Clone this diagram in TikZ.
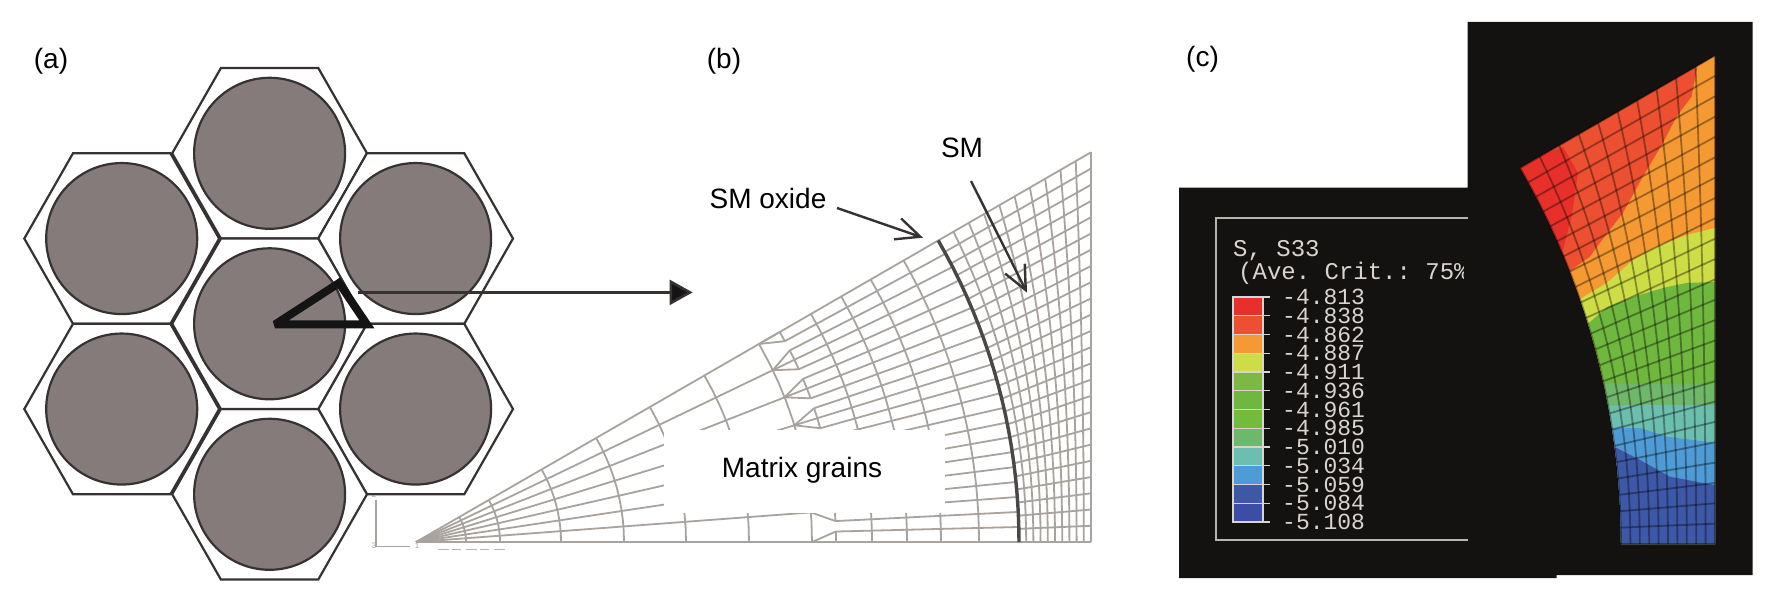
\documentclass[tikz,border=0pt]{standalone}
\usepackage{fontspec}
\usetikzlibrary{arrows.meta}
\frenchspacing
\newfontfamily\lab{Liberation Sans}
\newfontfamily\leg{Liberation Mono}
\definecolor{cellfill}{HTML}{857B7A}
\definecolor{cellline}{HTML}{363232}
\definecolor{meshgrey}{HTML}{A8A39E}
\definecolor{panel}{HTML}{141211}
\definecolor{legtext}{HTML}{D8D4D0}
\definecolor{bandA}{HTML}{E8302A}
\definecolor{bandB}{HTML}{EC5030}
\definecolor{bandC}{HTML}{F59A33}
\definecolor{bandD}{HTML}{CEDC45}
\definecolor{bandE}{HTML}{7EB843}
\definecolor{bandF}{HTML}{6FB73E}
\definecolor{bandG}{HTML}{72BC3B}
\definecolor{bandH}{HTML}{6FB76A}
\definecolor{bandI}{HTML}{6CBFAE}
\definecolor{bandJ}{HTML}{4F9BD5}
\definecolor{bandK}{HTML}{3E58A8}
\definecolor{bandL}{HTML}{3B4DA4}
\tikzset{
  x=1pt,y=-1pt,
  hexcell/.style={draw=cellline,line width=2.2pt,line join=miter},
  fibre/.style={draw=cellline,fill=cellfill,line width=2.2pt},
  meshline/.style={draw=meshgrey,line width=1.8pt},
  callout/.style={draw=cellline,line width=2.4pt,-{Straight Barb[length=24pt,width=22pt]}},
  labeltext/.style={font=\lab\fontsize{28}{30}\selectfont,text=black,inner sep=0pt},
  legendtext/.style={font=\leg\fontsize{23}{25}\selectfont,text=legtext,inner sep=0pt,anchor=west},
  tinydigit/.style={font=\lab\fontsize{8}{9}\selectfont,text=meshgrey,inner sep=0pt},
  contourmesh/.style={draw=black,draw opacity=.36,line width=1.8pt},
}
% one hexagonal cell with its circle
\newcommand{\hexcellat}[2]{%
  \draw[hexcell,fill=white] (#1+97.4,#2) -- (#1+48.7,#2+85.25) -- (#1-48.7,#2+85.25)
     -- (#1-97.4,#2) -- (#1-48.7,#2-85.25) -- (#1+48.7,#2-85.25) -- cycle;
  \draw[fibre] (#1,#2) circle[radius=75.5];
}
% SM mesh: apex (ax,ay), inner radius R, outer straight edge distance E
\newcommand{\smmesh}[5]{%
  \foreach \i in {0,...,10}{
    \draw[#5] plot[samples at={0,1,...,24},variable=\j]
      ({#1+(1-\i/10)*#3*cos(30*\j/24)+(\i/10)*#4},{#2-(1-\i/10)*#3*sin(30*\j/24)-(\i/10)*#4*0.57735*\j/24});
  }
  \foreach \j in {0,...,24}{
    \draw[#5] ({#1+#3*cos(30*\j/24)},{#2-#3*sin(30*\j/24)}) -- ({#1+#4},{#2-#4*0.57735*\j/24});
  }
}
\begin{document}
\begin{tikzpicture}
\useasboundingbox (0,0) rectangle (1772,601);
\fill[white] (0,0) rectangle (1772,601);

% ---------- (b) matrix mesh
\coordinate (apex) at (416,542);
\begin{scope}[shift={(416,542)}]
  % coarse spokes
  \foreach \k in {0,...,7}{
    \draw[meshline] (0,0) -- ({396*cos(30*\k/7)},{-396*sin(30*\k/7)});
  }
  % coarse arcs
  \foreach \r in {22,50,84,145,208,270,333,396}{
    \draw[meshline] plot[samples at={0,3,...,30},variable=\t] ({\r*cos(\t)},{-\r*sin(\t)});
  }
  % transition fans and teeth
  \foreach \k in {0,...,7}{
    \pgfmathsetmacro{\lo}{max(3*\k-1,0)}
    \pgfmathsetmacro{\hi}{min(3*\k+1,21)}
    \pgfmathsetmacro{\base}{30*\k/7}
    \draw[meshline] ({396*cos(\base)},{-396*sin(\base)}) -- ({420*cos(30*\lo/21)},{-420*sin(30*\lo/21)});
    \draw[meshline] ({396*cos(\base)},{-396*sin(\base)}) -- ({420*cos(30*\k/7)},{-420*sin(30*\k/7)});
    \draw[meshline] ({396*cos(\base)},{-396*sin(\base)}) -- ({420*cos(30*\hi/21)},{-420*sin(30*\hi/21)});
    \draw[meshline] ({420*cos(30*\lo/21)},{-420*sin(30*\lo/21)}) -- ({420*cos(30*\k/7)},{-420*sin(30*\k/7)}) -- ({420*cos(30*\hi/21)},{-420*sin(30*\hi/21)});
  }
  % fine spokes
  \foreach \j in {0,...,21}{
    \draw[meshline] ({420*cos(30*\j/21)},{-420*sin(30*\j/21)}) -- ({603*cos(30*\j/21)},{-603*sin(30*\j/21)});
  }
  % fine arcs
  \foreach \r in {456,491,525,563}{
    \draw[meshline] plot[samples at={0,1.5,...,30},variable=\t] ({\r*cos(\t)},{-\r*sin(\t)});
  }
\end{scope}
\smmesh{416}{542}{603}{675}{meshline}
\draw[meshline,line width=2.8pt] (416,542) -- (1091,542);
% thick SM oxide arc
\draw[draw=cellline!90,line width=3.4pt] plot[samples at={0,1.5,...,30},variable=\t] ({416+603*cos(\t)},{542-603*sin(\t)});
% white patch with label
\fill[white] (664,430) rectangle (945,513);
\node[labeltext] (matrix) at (802,470) {Matrix grains};

% small axis triad
\coordinate (axtop) at (376,500);
\coordinate (axorigin) at (376,546.5);
\coordinate (axend) at (410,546.5);
\draw[draw=meshgrey,line width=1.2pt] (axtop) -- (axorigin) -- (axend);
\node[tinydigit] (axtwo) at (374,495) {2};
\node[tinydigit] (axthree) at (374,546) {3};
\node[tinydigit] (axone) at (417,546) {1};
\draw[draw=meshgrey!80,line width=1.6pt,dash pattern=on 11pt off 3pt on 9pt off 5pt] (438,549.5) -- (507,549.5);

% ---------- (a) cells
\hexcellat{269.6}{153.3}
\hexcellat{121.7}{238.55}
\hexcellat{415.6}{238.55}
\hexcellat{121.7}{409.05}
\hexcellat{415.6}{409.05}
\hexcellat{269.6}{494.3}
\hexcellat{269.6}{323.8}
\coordinate (triA) at (275,324.5);
\coordinate (triB) at (339,283);
\coordinate (triC) at (367,324.5);
\draw[black!92,line width=8pt,line join=miter,miter limit=3] (triA) -- (triB) -- (triC) -- cycle;
\coordinate (arrowstart) at (358,292.4);
\coordinate (arrowend) at (692.6,292.4);
\draw[draw=cellline,line width=2.6pt,-{Triangle[length=23pt,width=25pt,fill=black!92]}] (arrowstart) -- (arrowend);

% ---------- (b) callouts
\node[labeltext] (oxide) at (768,198) {SM oxide};
\node[labeltext] (sm) at (962,148) {SM};
\coordinate (oxidefrom) at (837,208);
\coordinate (oxideto) at (923,237.7);
\coordinate (smfrom) at (971,181);
\coordinate (smto) at (1027,292.7);
\draw[callout] (oxidefrom) -- (oxideto);
\draw[callout] (smfrom) -- (smto);

% ---------- panel labels
\node[labeltext] (pa) at (51,61) {(a)};
\node[labeltext] (pb) at (724,61) {(b)};
\node[labeltext] (pc) at (1202.5,59) {(c)};

% ---------- (c) black panel
\fill[panel] (1179,187.6) -- (1467.7,187.6) -- (1467.7,21.8) -- (1752.5,21.8) -- (1752.5,575) -- (1556.5,575) -- (1556.5,578) -- (1179,578) -- cycle;
% legend frame
\draw[draw=legtext!85!black,line width=2pt] (1467.7,218) -- (1216,218) -- (1216,540) -- (1467.7,540);
\begin{scope}
  \clip (1200,205) rectangle (1463,290);
  \node[legendtext,font=\leg\fontsize{24}{26}\selectfont] (legA) at (1233,250.5) {S, S33};
  \node[legendtext,font=\leg\fontsize{24}{26}\selectfont] (legB) at (1238,273) {(Ave. Crit.: 75\%};
\end{scope}
% colour bar
\foreach \n/\c in {0/bandA,1/bandB,2/bandC,3/bandD,4/bandE,5/bandF,6/bandG,7/bandH,8/bandI,9/bandJ,10/bandK,11/bandL}{
  \fill[\c] (1233,{297+18.75*\n}) rectangle (1263,{297+18.75*(\n+1)});
}
\draw[draw=legtext,line width=1.2pt] (1233,297) rectangle (1263,522);
\foreach \n in {0,...,12}{
  \draw[draw=legtext,line width=1.3pt] (1233,{297+18.75*\n}) -- (1270,{297+18.75*\n});
}
\foreach \n/\v in {0/-4.813,1/-4.838,2/-4.862,3/-4.887,4/-4.911,5/-4.936,6/-4.961,7/-4.985,8/-5.010,9/-5.034,10/-5.059,11/-5.084,12/-5.108}{
  \node[legendtext] (val\n) at (1282,{297+18.75*\n}) {\v};
}

% ---------- (c) contour
\begin{scope}
  \clip plot[samples at={0,1.5,...,30},variable=\t] ({869+752*cos(\t)},{544-752*sin(\t)}) -- (1715,56) -- (1715,544) -- cycle;
  \fill[bandB] (1500,30) rectangle (1740,560);
  \fill[bandA] (1500,170) -- (1563,147) -- (1578,173) -- (1572,215) -- (1563,250) -- (1500,250) -- cycle;
  \fill[bandC] (1696.7,40) -- (1696.7,70) -- (1691.7,96.7) -- (1676.7,116.7) -- (1663,143) -- (1643,176.7) -- (1623,213) -- (1600,243) -- (1590,256.7) -- (1571.7,270) -- (1540,290) -- (1540,560) -- (1740,560) -- (1740,40) -- cycle;
  \fill[bandD] (1740,226) -- (1715,228) -- (1686.7,235) -- (1660,245) -- (1633,260) -- (1606.7,283) -- (1581.7,298) -- (1540,320) -- (1540,560) -- (1740,560) -- cycle;
  \fill[bandF] (1740,281) -- (1686,283) -- (1663,288) -- (1633,297) -- (1607,307) -- (1590,322) -- (1540,345) -- (1540,560) -- (1740,560) -- cycle;
  \fill[bandH] (1560,383) -- (1740,385) -- (1740,560) -- (1560,560) -- cycle;
  \fill[bandI] (1560,407) -- (1633,405) -- (1740,405) -- (1740,560) -- (1560,560) -- cycle;
  \fill[bandJ] (1560,428) -- (1640,428) -- (1667,436.7) -- (1740,446) -- (1740,560) -- (1560,560) -- cycle;
  \fill[bandK] (1560,440) -- (1616.7,448) -- (1640,460) -- (1670,476.7) -- (1740,490) -- (1740,560) -- (1560,560) -- cycle;
\end{scope}
\smmesh{869}{544}{752}{846}{contourmesh}
\end{tikzpicture}
\end{document}
